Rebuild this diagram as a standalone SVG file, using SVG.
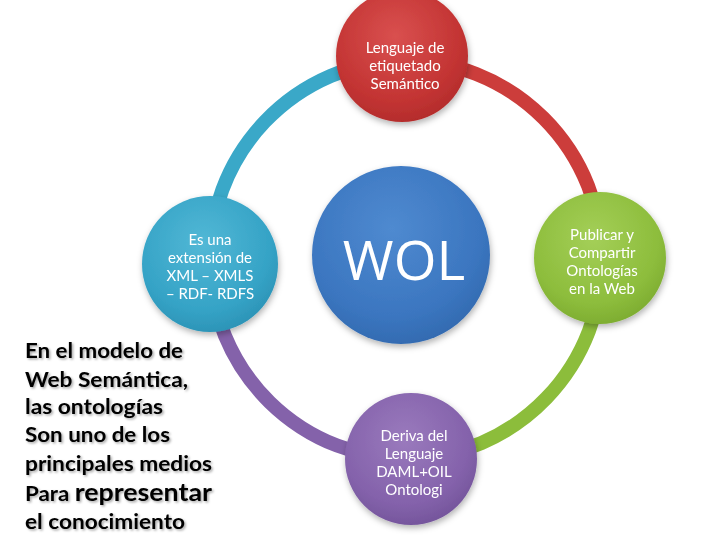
<svg xmlns="http://www.w3.org/2000/svg" width="728" height="546" viewBox="0 0 728 546">
<defs>
<radialGradient id="gRed" cx="0.45" cy="0.35" r="0.7"><stop offset="0" stop-color="#d9504f"/><stop offset="0.7" stop-color="#c33433"/><stop offset="1" stop-color="#b02a2a"/></radialGradient>
<radialGradient id="gBlue" cx="0.45" cy="0.35" r="0.7"><stop offset="0" stop-color="#4f8ad0"/><stop offset="0.7" stop-color="#3b76c0"/><stop offset="1" stop-color="#3168ad"/></radialGradient>
<radialGradient id="gCyan" cx="0.45" cy="0.35" r="0.7"><stop offset="0" stop-color="#52b8d6"/><stop offset="0.7" stop-color="#35a3c6"/><stop offset="1" stop-color="#2a90b3"/></radialGradient>
<radialGradient id="gGreen" cx="0.45" cy="0.35" r="0.7"><stop offset="0" stop-color="#a4cf58"/><stop offset="0.7" stop-color="#8dbd3c"/><stop offset="1" stop-color="#7aa92f"/></radialGradient>
<radialGradient id="gPurple" cx="0.45" cy="0.35" r="0.7"><stop offset="0" stop-color="#9a7abd"/><stop offset="0.7" stop-color="#8462ab"/><stop offset="1" stop-color="#715298"/></radialGradient>
<filter id="sh" x="-20%" y="-20%" width="140%" height="140%"><feDropShadow dx="1" dy="3" stdDeviation="3" flood-color="#000" flood-opacity="0.3"/></filter>
<filter id="tsh" x="-5%" y="-20%" width="110%" height="140%"><feDropShadow dx="1.5" dy="1.5" stdDeviation="1" flood-color="#000" flood-opacity="0.35"/></filter>
</defs>
<style>
.ring{fill:none;stroke-width:14;stroke-linecap:butt}
.nt{font-family:Lato,"Open Sans","Liberation Sans",sans-serif;font-size:15px;fill:#fff;text-anchor:middle}
.big{font-family:"Open Sans","Liberation Sans",sans-serif;font-size:55px;fill:#fff;text-anchor:middle}
.side{font-family:Lato,"Liberation Sans",sans-serif;font-weight:bold;font-size:20px;fill:#000}
</style>
<rect width="728" height="546" fill="#fff"/>
<g id="connectors">
<path class="ring" stroke="#cc3d3b" d="M403 60 A199 199 0 0 1 602 259"/>
<path class="ring" stroke="#8cbd3b" d="M602 259 A199 199 0 0 1 410 459"/>
<path class="ring" stroke="#8462aa" d="M410 459 A199 199 0 0 1 210 263"/>
<path class="ring" stroke="#3aa8c8" d="M210 263 A199 199 0 0 1 403 60"/>
</g>
<g id="center" filter="url(#sh)">
<circle cx="401" cy="255" r="89" fill="url(#gBlue)"/>
<text class="big" x="404" y="280">WOL</text>
</g>
<g id="top" filter="url(#sh)">
<circle cx="402" cy="56" r="66" fill="url(#gRed)"/>
<text class="nt" x="405" y="53">Lenguaje de</text>
<text class="nt" x="405" y="71">etiquetado</text>
<text class="nt" x="405" y="89">Semántico</text>
</g>
<g id="right" filter="url(#sh)">
<circle cx="600" cy="258" r="66" fill="url(#gGreen)"/>
<text class="nt" x="602" y="240">Publicar y</text>
<text class="nt" x="602" y="258">Compartir</text>
<text class="nt" x="602" y="276">Ontologías</text>
<text class="nt" x="602" y="294">en la Web</text>
</g>
<g id="bottom" filter="url(#sh)">
<circle cx="411" cy="459" r="66" fill="url(#gPurple)"/>
<text class="nt" x="414" y="441">Deriva del</text>
<text class="nt" x="414" y="459">Lenguaje</text>
<text class="nt" x="414" y="477">DAML+OIL</text>
<text class="nt" x="414" y="495">Ontologi</text>
</g>
<g id="left" filter="url(#sh)">
<circle cx="210" cy="264" r="68" fill="url(#gCyan)"/>
<text class="nt" x="210" y="245">Es una</text>
<text class="nt" x="210" y="263">extensión de</text>
<text class="nt" x="210" y="281">XML – XMLS</text>
<text class="nt" x="210" y="299">– RDF- RDFS</text>
</g>
<g id="caption" filter="url(#tsh)">
<text class="side" x="25" y="358" textLength="158" lengthAdjust="spacingAndGlyphs">En el modelo de</text>
<text class="side" x="25" y="387" textLength="163" lengthAdjust="spacingAndGlyphs">Web Semántica,</text>
<text class="side" x="25" y="414" textLength="138" lengthAdjust="spacingAndGlyphs">las ontologías</text>
<text class="side" x="25" y="442" textLength="145" lengthAdjust="spacingAndGlyphs">Son uno de los</text>
<text class="side" x="25" y="471" textLength="187" lengthAdjust="spacingAndGlyphs">principales medios</text>
<text class="side" x="25" y="501" textLength="187" lengthAdjust="spacingAndGlyphs">Para <tspan font-size="24">representar</tspan></text>
<text class="side" x="25" y="529" textLength="160" lengthAdjust="spacingAndGlyphs">el conocimiento</text>
</g>
</svg>
